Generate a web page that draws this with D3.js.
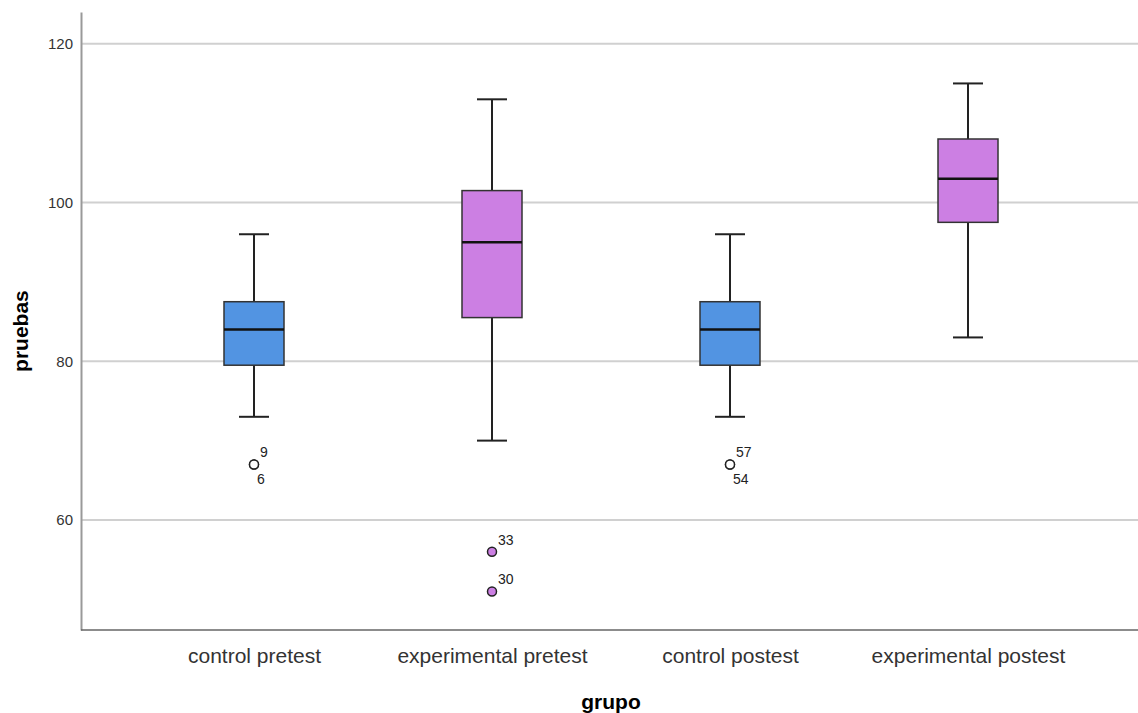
<!DOCTYPE html>
<meta charset="utf-8">
<style>
body { margin: 0; background: #fff; }
text { font-family: "Liberation Sans", Arial, sans-serif; }
.grid line { stroke: #d0d0d0; stroke-width: 2; }
.tick text { fill: #333; }
</style>
<svg width="1138" height="713"></svg>
<script src="https://d3js.org/d3.v7.min.js"></script>
<script>

var categories = ["control pretest", "experimental pretest", "control postest", "experimental postest"];
var whiskerLow  = [73, 70, 73, 83];
var q1          = [79.5, 85.5, 79.5, 97.5];
var median      = [84, 95, 84, 103];
var q3          = [87.5, 101.5, 87.5, 108];
var whiskerHigh = [96, 113, 96, 115];
// outliers: [category index, value, case label, label position]
var outliers = [
  [0, 67, "9", "up"], [0, 67, "6", "down"],
  [1, 56, "33", "up"], [1, 51, "30", "up"],
  [2, 67, "57", "up"], [2, 67, "54", "down"]
];
var yTicks = [60, 80, 100, 120];

var colors = ["#5294e2", "#cc7fe3", "#5294e2", "#cc7fe3"];
var outlierFill = ["#fff", "#cc7fe3", "#fff", "#cc7fe3"];

var svg = d3.select("svg"),
    margin = {top: 12, right: 0, bottom: 83, left: 81},
    width = +svg.attr("width") - margin.left - margin.right,
    height = +svg.attr("height") - margin.top - margin.bottom;

var x = d3.scalePoint().domain(categories).range([173, 887]),
    y = d3.scaleLinear().domain([46.14, 124]).range([height, 0]);

var g = svg.append("g")
    .attr("transform", "translate(" + margin.left + "," + margin.top + ")");

// gridlines
g.append("g")
    .attr("class", "grid")
  .selectAll("line")
  .data(yTicks)
  .enter().append("line")
    .attr("x1", 0).attr("x2", width)
    .attr("y1", function(d) { return y(d); })
    .attr("y2", function(d) { return y(d); });

// y axis
var yAxis = g.append("g")
    .call(d3.axisLeft(y).tickValues(yTicks).tickSize(0).tickPadding(8));
yAxis.select(".domain").attr("stroke", "#999").attr("stroke-width", 2);
yAxis.selectAll(".tick text").attr("font-size", 15);

// x axis
var xAxis = g.append("g")
    .attr("transform", "translate(0," + height + ")")
    .call(d3.axisBottom(x).tickSize(0).tickPadding(18));
xAxis.select(".domain").attr("d", "M0,0H" + width).attr("stroke", "#666").attr("stroke-width", 1.5);
xAxis.selectAll(".tick text").attr("font-size", 21).attr("fill", "#222");

var boxW = 60, capW = 30;

var box = g.selectAll(".box")
  .data(categories)
  .enter().append("g")
    .attr("class", "box")
    .attr("transform", function(d) { return "translate(" + x(d) + ",0)"; });

box.append("line")
    .attr("y1", function(d, i) { return y(whiskerLow[i]); })
    .attr("y2", function(d, i) { return y(whiskerHigh[i]); })
    .attr("stroke", "#222").attr("stroke-width", 2);

box.append("line")
    .attr("x1", -capW / 2).attr("x2", capW / 2)
    .attr("y1", function(d, i) { return y(whiskerHigh[i]); })
    .attr("y2", function(d, i) { return y(whiskerHigh[i]); })
    .attr("stroke", "#222").attr("stroke-width", 2);

box.append("line")
    .attr("x1", -capW / 2).attr("x2", capW / 2)
    .attr("y1", function(d, i) { return y(whiskerLow[i]); })
    .attr("y2", function(d, i) { return y(whiskerLow[i]); })
    .attr("stroke", "#222").attr("stroke-width", 2);

box.append("rect")
    .attr("x", -boxW / 2).attr("width", boxW)
    .attr("y", function(d, i) { return y(q3[i]); })
    .attr("height", function(d, i) { return y(q1[i]) - y(q3[i]); })
    .attr("fill", function(d, i) { return colors[i]; })
    .attr("stroke", "#333").attr("stroke-width", 1.5);

box.append("line")
    .attr("x1", -boxW / 2).attr("x2", boxW / 2)
    .attr("y1", function(d, i) { return y(median[i]); })
    .attr("y2", function(d, i) { return y(median[i]); })
    .attr("stroke", "#111").attr("stroke-width", 2.5);

// outliers
g.selectAll(".outlier")
  .data(outliers)
  .enter().append("circle")
    .attr("cx", function(d) { return x(categories[d[0]]); })
    .attr("cy", function(d) { return y(d[1]); })
    .attr("r", 4.5)
    .attr("fill", function(d) { return outlierFill[d[0]]; })
    .attr("stroke", "#222").attr("stroke-width", 1.5);

g.selectAll(".olabel")
  .data(outliers)
  .enter().append("text")
    .attr("x", function(d) { return x(categories[d[0]]) + (d[3] == "up" ? 6 : 3); })
    .attr("y", function(d) { return y(d[1]) + (d[3] == "up" ? -7 : 20); })
    .attr("font-size", 14)
    .attr("fill", "#222")
    .text(function(d) { return d[2]; });

// axis titles
svg.append("text")
    .attr("transform", "translate(28," + (margin.top + y(83.8)) + ") rotate(-90)")
    .attr("text-anchor", "middle")
    .attr("font-size", 21).attr("font-weight", "bold")
    .text("pruebas");

svg.append("text")
    .attr("x", 611).attr("y", 709)
    .attr("text-anchor", "middle")
    .attr("font-size", 21).attr("font-weight", "bold")
    .text("grupo");

</script>
